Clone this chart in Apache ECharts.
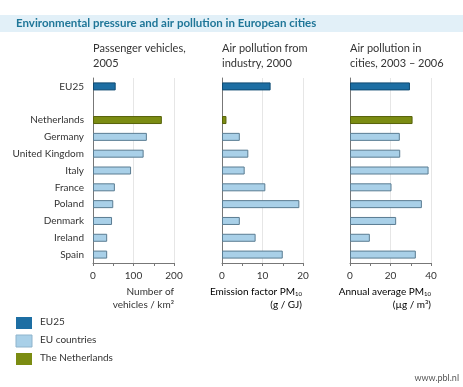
<!DOCTYPE html>
<html><head><meta charset="utf-8">
<script src="https://cdn.jsdelivr.net/npm/echarts@6/dist/echarts.min.js"></script>
<style>html,body{margin:0;padding:0;background:#fff}#c{width:463px;height:387px}</style>
</head><body><div id="c"></div>
<script>
const categories = ['EU25','','Netherlands','Germany','United Kingdom','Italy','France','Poland','Denmark','Ireland','Spain'];
const vehicles = [56,null,170,133,125,94,54,50,47,35,35];
const industry = [12.0,null,1.1,4.4,6.5,5.6,10.7,19.1,4.4,8.3,15.0];
const cities = [29.6,null,30.9,24.6,24.8,38.8,20.5,35.5,22.8,9.8,32.5];
const panelTitles = ['Passenger vehicles,\n2005','Air pollution from\nindustry, 2000','Air pollution in\ncities, 2003 – 2006'];
const axisMax = [200,20,40];
const axisInterval = [100,10,20];

const FONT = 'Lato, "Open Sans", sans-serif';
const TXT = '#333';
const styles = {
  eu25: {color:'#1d6ea3', borderColor:'#0f4a72', borderWidth:1},
  eu:   {color:'#a9d0e8', borderColor:'#5a7c92', borderWidth:1},
  nl:   {color:'#7b8c12', borderColor:'#56620a', borderWidth:1}
};
function styleFor(cat){
  if(cat==='EU25') return styles.eu25;
  if(cat==='Netherlands') return styles.nl;
  return styles.eu;
}
const grids = [
  {left:93, top:78, width:81, height:185},
  {left:222, top:78, width:81, height:185},
  {left:350, top:78, width:81, height:185}
];
const datasets = [vehicles, industry, cities];

const chart = echarts.init(document.getElementById('c'));
const option = {
  animation:false,
  textStyle:{fontFamily:FONT},
  grid: grids,
  xAxis: grids.map((g,i)=>({
    type:'value', gridIndex:i, min:0, max:axisMax[i], interval:axisInterval[i],
    axisLine:{show:true, lineStyle:{color:'#777', width:1}},
    axisTick:{show:true, length:3, lineStyle:{color:'#777'}},
    minorTick:{show:true, splitNumber:2, length:3, lineStyle:{color:'#777'}},
    splitLine:{show:true, lineStyle:{color:'#e6e6e6', width:1}},
    axisLabel:{fontFamily:FONT, fontSize:10, color:TXT, margin:8}
  })),
  yAxis: grids.map((g,i)=>({
    type:'category', gridIndex:i, data:categories, inverse:true,
    axisLine:{show:true, lineStyle:{color:'#777', width:1}},
    axisTick:{show:false},
    axisLabel:{show:i===0, fontFamily:FONT, fontSize:10, color:TXT, margin:9}
  })),
  series: datasets.map((d,i)=>({
    type:'bar', xAxisIndex:i, yAxisIndex:i, barWidth:8,
    data: d.map((v,j)=>({value:v, itemStyle:styleFor(categories[j])}))
  })),
  graphic: [
    {type:'rect', shape:{x:0,y:15,width:463,height:17}, style:{fill:'#e2f0f8'}},
    {type:'text', left:16, top:17, style:{text:'Environmental pressure and air pollution in European cities', font:'bold 11.5px '+FONT, fill:'#1f7698'}},
  ].concat(panelTitles.map((t,i)=>({
    type:'text', left:grids[i].left, top:41, style:{text:t, font:'11px '+FONT, fill:TXT, lineHeight:15}
  }))).concat([
    {type:'text', x:174, y:285, style:{text:'Number of\nvehicles / km²', font:'10px '+FONT, fill:TXT, align:'right', lineHeight:13}},
    {type:'text', x:302, y:285, style:{
      text:'{a|Emission factor PM}{s|10}\n{a|(g / GJ)}', align:'right',
      rich:{a:{fontFamily:FONT, fontSize:10, color:TXT, lineHeight:13}, s:{fontFamily:FONT, fontSize:6, color:TXT, padding:[6,0,0,0]}}}},
    {type:'text', x:431, y:285, style:{
      text:'{a|Annual average PM}{s|10}\n{a|(µg / m³)}', align:'right',
      rich:{a:{fontFamily:FONT, fontSize:10, color:TXT, lineHeight:13}, s:{fontFamily:FONT, fontSize:6, color:TXT, padding:[6,0,0,0]}}}},
    {type:'rect', shape:{x:16,y:317,width:16,height:12}, style:{fill:styles.eu25.color}},
    {type:'rect', shape:{x:16,y:335,width:16,height:12}, style:{fill:styles.eu.color, stroke:'#8fb4cc', lineWidth:1}},
    {type:'rect', shape:{x:16,y:353,width:16,height:12}, style:{fill:styles.nl.color}},
    {type:'text', left:40, top:317, style:{text:'EU25', font:'10px '+FONT, fill:TXT}},
    {type:'text', left:40, top:335, style:{text:'EU countries', font:'10px '+FONT, fill:TXT}},
    {type:'text', left:40, top:353, style:{text:'The Netherlands', font:'10px '+FONT, fill:TXT}},
    {type:'text', right:4, top:374, style:{text:'www.pbl.nl', font:'9px '+FONT, fill:'#555'}}
  ])
};
chart.setOption(option);
</script></body></html>
